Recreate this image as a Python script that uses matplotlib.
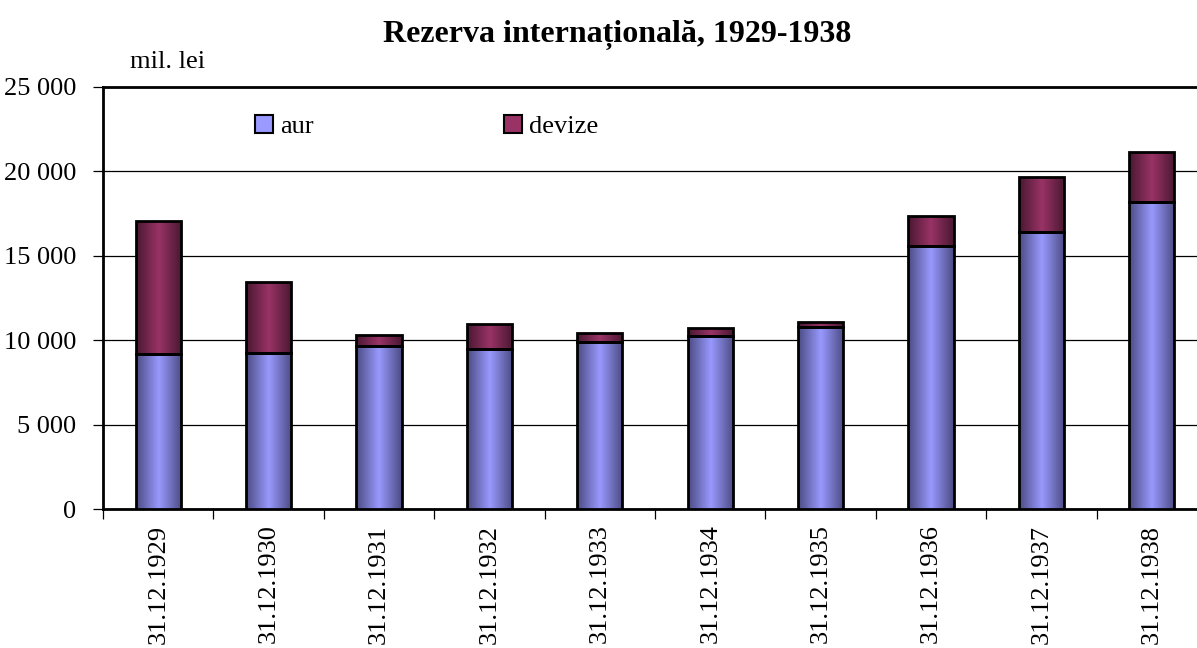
import numpy as np
import matplotlib.pyplot as plt
from matplotlib.colors import LinearSegmentedColormap
from matplotlib.patches import Patch
from matplotlib.ticker import FuncFormatter, MultipleLocator

# date (mil. lei)
ani = ["31.12.1929", "31.12.1930", "31.12.1931", "31.12.1932", "31.12.1933",
       "31.12.1934", "31.12.1935", "31.12.1936", "31.12.1937", "31.12.1938"]
aur = [9170, 9270, 9660, 9500, 9900, 10250, 10790, 15580, 16430, 18200]
devize = [7890, 4180, 650, 1480, 510, 500, 310, 1790, 3230, 2940]

plt.rcParams['font.family'] = ['Liberation Serif', 'DejaVu Serif']

fig = plt.figure(figsize=(11.97, 6.48), dpi=100)
ax = fig.add_axes([103 / 1197, 0.214, 1104 / 1197, 0.652])

x = np.arange(len(ani))
w = 0.41

cm_aur = LinearSegmentedColormap.from_list(
    "aur", [(0, "#4c4c85"), (0.5, "#9999ff"), (1, "#4c4c85")])
cm_dev = LinearSegmentedColormap.from_list(
    "dev", [(0, "#4a1832"), (0.5, "#993366"), (1, "#4a1832")])
grad = np.linspace(0, 1, 64).reshape(1, -1)

b1 = ax.bar(x, aur, w, facecolor="none", edgecolor="black", lw=2, zorder=4)
b2 = ax.bar(x, devize, w, bottom=aur, facecolor="none", edgecolor="black",
            lw=2, zorder=4)

# gradient orizontal in fiecare bara
for bars, cmap in ((b1, cm_aur), (b2, cm_dev)):
    for b in bars:
        x0, y0 = b.get_x(), b.get_y()
        im = ax.imshow(grad, cmap=cmap, aspect="auto", zorder=3,
                       extent=[x0, x0 + b.get_width(), y0, y0 + b.get_height()])
        im.set_clip_path(b)

ax.set_xlim(-0.5, len(ani) - 0.5)
ax.set_ylim(0, 25000)

ax.yaxis.set_major_locator(MultipleLocator(5000))
ax.yaxis.set_major_formatter(FuncFormatter(lambda v, p: f"{int(v):,}".replace(",", " ")))
ax.grid(axis="y", color="black", lw=0.9, zorder=1)
ax.set_axisbelow(True)

ax.set_xticks(x)
ax.set_xticklabels(ani, rotation=90, fontsize=19)
ax.set_xticks(np.arange(len(ani) + 1) - 0.5, minor=True)
ax.tick_params(axis="x", which="major", length=0, pad=11)
ax.tick_params(axis="x", which="minor", length=7, width=0.9, direction="out")
ax.tick_params(axis="y", length=7, width=0.9, direction="out", labelsize=19, pad=12)

ax.spines["right"].set_visible(False)
for s in ("left", "bottom", "top"):
    ax.spines[s].set_linewidth(2)

fig.text(617 / 1197, 1 - 35 / 648, "Rezerva internațională, 1929-1938",
         ha="center", va="center", fontsize=23, fontweight="bold")
fig.text(130 / 1197, 1 - 62 / 648, "mil. lei", ha="left", va="center", fontsize=19)

handles = [Patch(facecolor="#9999ff", edgecolor="black", lw=1.5, label="aur"),
           Patch(facecolor="#993366", edgecolor="black", lw=1.5, label="devize")]
fig.legend(handles=handles, loc="upper left", bbox_to_anchor=(255 / 1197, 1 - 115 / 648),
           ncol=2, frameon=False, fontsize=19, handlelength=0.7, handleheight=0.7,
           handletextpad=0.25, columnspacing=7.2, borderpad=0, borderaxespad=0)

fig.savefig("out.png", dpi=100)
